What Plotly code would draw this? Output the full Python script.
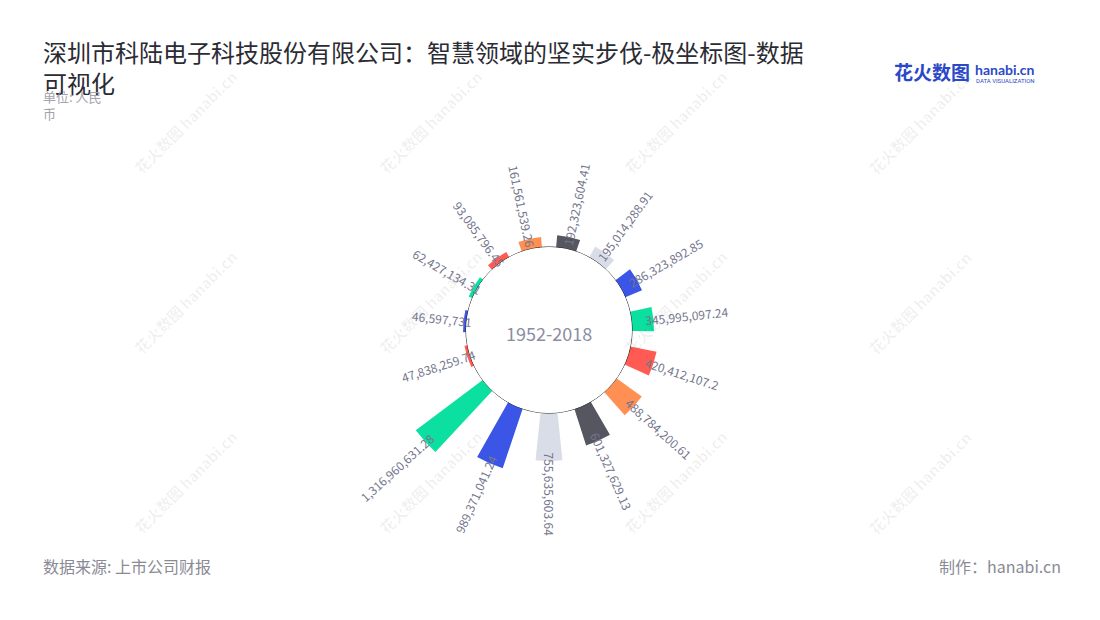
import math
import plotly.graph_objects as go

# ---------------- data (clockwise from the top) ----------------
VALUES = [
    192323604.41, 195014288.91, 286323892.85, 345995097.24, 420412107.2,
    488784200.61, 601327629.13, 755635603.64, 989371041.24, 1316960631.28,
    47838259.74, 46597731, 62427134.31, 93085796.45, 161561539.26,
]
BAR_COLORS = [
    "#55565f", "#d9dde8", "#3b55e6", "#0be0a0", "#ff5b52",
    "#ff8f52", "#55565f", "#d9dde8", "#3b55e6", "#0be0a0",
    "#ff5b52", "#3b55e6", "#0be0a0", "#ff5b52", "#ff8f52",
]
CENTER_TEXT = "1952-2018"
TITLE = "深圳市科陆电子科技股份有限公司：智慧领域的坚实步伐-极坐标图-数据<br>可视化"
UNIT = "单位: 人民<br>币"
SOURCE = "数据来源: 上市公司财报"
MAKER = "制作：hanabi.cn"

# ---------------- layout constants ----------------
W, H = 1100, 620
CX, CY = 549, 330          # polar centre (px)
R_PX = 172                 # outer radius (px)
HOLE_PX = 83               # hole radius (px)
R_MAX = 1.4e9
START = 12
N = len(VALUES)
STEP = 360 / N
BAR_PX = 22                # visual bar thickness
LABEL_SIZE = 12
LABEL_COLOR = "#74768e"
FONT = "Noto Sans CJK SC"

K = (R_PX - HOLE_PX) / R_MAX
thetas = [START + STEP * i for i in range(N)]


def fmt(v):
    s = f"{v:,.2f}"
    s = s.rstrip("0").rstrip(".")
    return s


labels = [fmt(v) for v in VALUES]


def text_len(s, size):
    return sum(0.555 * size if c.isdigit() else 0.27 * size for c in s)


# per-bar angular width so bars look about BAR_PX thick
widths = []
for v in VALUES:
    r_mid = HOLE_PX + v * K / 2
    widths.append(math.degrees(BAR_PX / r_mid))

fig = go.Figure()
fig.add_trace(go.Barpolar(
    r=VALUES, theta=thetas, width=widths,
    marker=dict(color=BAR_COLORS, line=dict(width=0)),
    hoverinfo="skip", showlegend=False,
))
# hole outline
ring_theta = list(range(0, 361, 2))
fig.add_trace(go.Scatterpolar(
    r=[0] * len(ring_theta), theta=ring_theta, mode="lines",
    line=dict(color="#222222", width=1), hoverinfo="skip", showlegend=False,
))

annotations = []

# watermarks
for wx in [185, 430, 675, 920]:
    for wy in [122, 302, 482]:
        annotations.append(dict(
            text="<b>花火数图</b> <b>hanabi.cn</b>", x=wx / W, y=1 - wy / H,
            xref="paper", yref="paper", showarrow=False, textangle=-45,
            xanchor="center", yanchor="middle",
            font=dict(family=FONT, size=15, color="rgba(0,0,0,0.06)"),
        ))

# value labels
for v, th, s in zip(VALUES, thetas, labels):
    r_end = HOLE_PX + v * K
    L = text_len(s, LABEL_SIZE)
    rc = r_end - 8 + L / 2
    rad = math.radians(th)
    x = (CX + rc * math.sin(rad)) / W
    y = 1 - (CY - rc * math.cos(rad)) / H
    ang = th - 90 if th <= 180 else th - 270
    annotations.append(dict(
        text=s, x=x, y=y, xref="paper", yref="paper", showarrow=False,
        textangle=ang, xanchor="center", yanchor="middle",
        font=dict(family=FONT, size=LABEL_SIZE, color=LABEL_COLOR),
    ))

# centre text
annotations.append(dict(
    text=CENTER_TEXT, x=CX / W, y=1 - 333 / H, xref="paper", yref="paper",
    showarrow=False, xanchor="center", yanchor="middle",
    font=dict(family=FONT, size=18, color="#8c8da3"),
))
# title
annotations.append(dict(
    text=TITLE, x=41 / W, y=1 - 32 / H, xref="paper", yref="paper",
    showarrow=False, xanchor="left", yanchor="top", align="left",
    font=dict(family=FONT, size=24, color="#2b2b33"),
))
# unit
annotations.append(dict(
    text=UNIT, x=41 / W, y=1 - 85 / H, xref="paper", yref="paper",
    showarrow=False, xanchor="left", yanchor="top", align="left",
    font=dict(family=FONT, size=13, color="#a3a3ad"),
))
# footer
annotations.append(dict(
    text=SOURCE, x=41 / W, y=1 - 566 / H, xref="paper", yref="paper",
    showarrow=False, xanchor="left", yanchor="middle",
    font=dict(family=FONT, size=16, color="#8a8a96"),
))
annotations.append(dict(
    text=MAKER, x=1063 / W, y=1 - 566 / H, xref="paper", yref="paper",
    showarrow=False, xanchor="right", yanchor="middle",
    font=dict(family=FONT, size=16, color="#8a8a96"),
))
# logo
annotations.append(dict(
    text="<b>花火数图</b>", x=892 / W, y=1 - 72 / H, xref="paper", yref="paper",
    showarrow=False, xanchor="left", yanchor="middle",
    font=dict(family=FONT, size=19, color="#2a48c8"),
))
annotations.append(dict(
    text="<b>hanabi.cn</b>", x=973 / W, y=1 - 69 / H, xref="paper", yref="paper",
    showarrow=False, xanchor="left", yanchor="middle",
    font=dict(family="Lato", size=14, color="#2a48c8"),
))
annotations.append(dict(
    text="DATA VISUALIZATION", x=974 / W, y=1 - 80 / H, xref="paper", yref="paper",
    showarrow=False, xanchor="left", yanchor="middle",
    font=dict(family="Roboto", size=6, color="#2a48c8"),
))

fig.update_layout(
    width=W, height=H, autosize=False,
    margin=dict(l=0, r=0, t=0, b=0),
    paper_bgcolor="white", plot_bgcolor="white",
    showlegend=False,
    polar=dict(
        domain=dict(x=[(CX - R_PX) / W, (CX + R_PX) / W],
                    y=[1 - (CY + R_PX) / H, 1 - (CY - R_PX) / H]),
        hole=HOLE_PX / R_PX,
        bgcolor="rgba(0,0,0,0)",
        radialaxis=dict(range=[0, R_MAX], visible=False, showgrid=False,
                        showline=False, showticklabels=False),
        angularaxis=dict(direction="clockwise", rotation=90, showgrid=False,
                         showline=False, showticklabels=False, ticks=""),
    ),
    annotations=annotations,
)

fig.write_html("out.html", config={"displayModeBar": False},
               post_script="document.body.style.margin='0px';")
